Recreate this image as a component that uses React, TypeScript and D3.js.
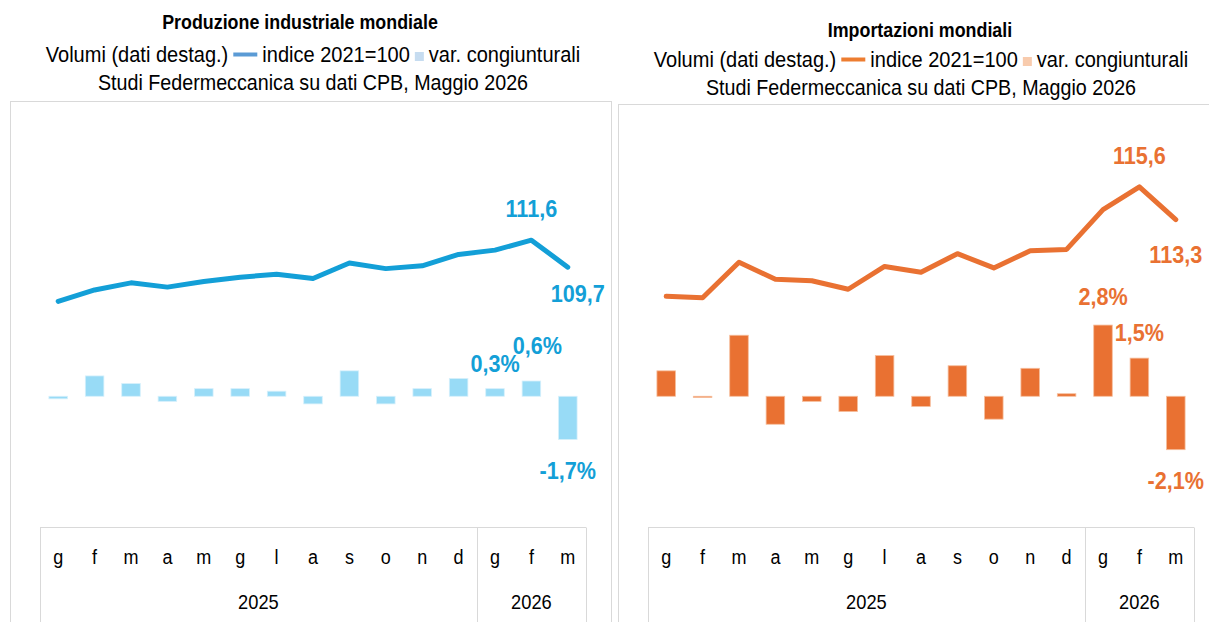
import React, { useEffect, useRef } from 'react';
import * as d3 from 'd3';

// months (Italian initials), Jan 2025 - Mar 2026
const months = ['g', 'f', 'm', 'a', 'm', 'g', 'l', 'a', 's', 'o', 'n', 'd', 'g', 'f', 'm'];
const years = ['2025', '2026'];
const yearMonths = [12, 3];

// world industrial production, index 2021=100 and m/m % change
const prodIndex = [107.3, 108.1, 108.6, 108.3, 108.7, 109.0, 109.2, 108.9, 110.0, 109.6, 109.8, 110.6, 110.9, 111.6, 109.7];
const prodVar = [-0.1, 0.8, 0.5, -0.2, 0.3, 0.3, 0.2, -0.3, 1.0, -0.3, 0.3, 0.7, 0.3, 0.6, -1.7];

// world imports, index 2021=100 and m/m % change
const impIndex = [107.9, 107.8, 110.3, 109.1, 109.0, 108.4, 110.0, 109.6, 110.9, 109.9, 111.1, 111.2, 114.0, 115.6, 113.3];
const impVar = [1.0, -0.05, 2.4, -1.1, -0.2, -0.6, 1.6, -0.4, 1.2, -0.9, 1.1, 0.1, 2.8, 1.5, -2.1];

const FONT = "'Liberation Sans Narrow','Arial Narrow','Liberation Sans',Arial,sans-serif";
const fmt = (v: number) => d3.format('.1f')(v).replace('.', ',').replace('\u2212', '-');

// squeeze a text to mimic the narrow face of the original
const condense = (sel: any, k: number) => {
  const w = (sel.node() as SVGTextElement).getComputedTextLength();
  sel.attr('textLength', w * k).attr('lengthAdjust', 'spacingAndGlyphs');
  return w * k;
};

const panels = [
  {
    title: 'Produzione industriale mondiale',
    index: prodIndex,
    vars: prodVar,
    frame: [10.5, 101.5],
    range: [40, 586],
    titleDx: -13,
    lineDomain: [91.4, 120.4],
    lineColor: '#139FD7',
    barColor: '#98DBF6',
    barEdge: '#D6F0FB',
    legLine: '#5B9BD5',
    legBox: '#C6DCF0',
    titleY: 29,
    legendY: 62,
    sourceY: 90,
    lineLabels: [{ i: 13, dx: 0, dy: -23 }, { i: 14, dx: 10, dy: 35 }],
    barLabels: [{ i: 12, dx: 0, dy: -17 }, { i: 13, dx: 6, dy: -27 }, { i: 14, dx: 0, dy: 39 }],
  },
  {
    title: 'Importazioni mondiali',
    index: impIndex,
    vars: impVar,
    frame: [618.5, 104.5],
    range: [648, 1194],
    titleDx: -1,
    lineDomain: [91.65, 120.65],
    lineColor: '#E97132',
    barColor: '#E97132',
    barEdge: '#F6BE9C',
    legLine: '#ED7D31',
    legBox: '#F8CBAD',
    titleY: 37,
    legendY: 67,
    sourceY: 95,
    lineLabels: [{ i: 13, dx: 0, dy: -23 }, { i: 14, dx: 0, dy: 43 }],
    barLabels: [{ i: 12, dx: 0, dy: -20 }, { i: 13, dx: 0, dy: -17 }, { i: 14, dx: 0, dy: 39 }],
  },
];

const App = () => {
  const svgRef = useRef<SVGSVGElement>(null);

  useEffect(() => {
    const svg = d3.select(svgRef.current);
    svg.selectAll('*').remove();

    const plotTop = 115;
    const axisTop = 527.5;
    const barY = d3.scaleLinear().domain([-5.16, 11.06]).range([axisTop, plotTop]);

    panels.forEach(p => {
      const g = svg.append('g');
      const cx = (p.range[0] + p.range[1]) / 2;

      // frame
      g.append('rect')
        .attr('x', p.frame[0]).attr('y', p.frame[1])
        .attr('width', 601).attr('height', 700)
        .attr('fill', 'none').attr('stroke', '#D9D9D9');

      // titles
      const title = g.append('text').attr('x', cx + p.titleDx).attr('y', p.titleY)
        .attr('text-anchor', 'middle').attr('font-weight', 'bold').attr('font-size', 21)
        .text(p.title);
      condense(title, 0.85);

      // legend (measured and centered)
      const fs = 22.5;
      const leg = g.append('g');
      const t1 = leg.append('text').attr('font-size', fs).text('Volumi (dati destag.)');
      const w1 = condense(t1, 0.89);
      const t2 = leg.append('text').attr('font-size', fs).text('indice 2021=100');
      const w2 = condense(t2, 0.89);
      const t3 = leg.append('text').attr('font-size', fs).text('var. congiunturali');
      const w3 = condense(t3, 0.89);
      const gap = 5, lineW = 24, boxW = 9;
      const total = w1 + gap + lineW + gap + w2 + gap + boxW + gap + w3;
      let lx = cx - total / 2;
      t1.attr('x', lx).attr('y', p.legendY);
      lx += w1 + gap;
      leg.append('line').attr('x1', lx).attr('x2', lx + lineW)
        .attr('y1', p.legendY - 7.5).attr('y2', p.legendY - 7.5)
        .attr('stroke', p.legLine).attr('stroke-width', 4);
      lx += lineW + gap;
      t2.attr('x', lx).attr('y', p.legendY);
      lx += w2 + gap;
      leg.append('rect').attr('x', lx).attr('y', p.legendY - 10).attr('width', boxW).attr('height', boxW)
        .attr('fill', p.legBox);
      lx += boxW + gap;
      t3.attr('x', lx).attr('y', p.legendY);

      const src = g.append('text').attr('x', cx).attr('y', p.sourceY)
        .attr('text-anchor', 'middle').attr('font-size', fs)
        .text('Studi Federmeccanica su dati CPB, Maggio 2026');
      condense(src, 0.875);

      // scales
      const x = d3.scaleBand<number>().domain(d3.range(months.length)).range(p.range as [number, number])
        .paddingInner(0.49).paddingOuter(0.245);
      const xc = (i: number) => (x(i) as number) + x.bandwidth() / 2;
      const y = d3.scaleLinear().domain(p.lineDomain).range([axisTop, plotTop]);

      // bars
      g.append('g').selectAll('rect').data(p.vars).join('rect')
        .attr('x', (d, i) => x(i) as number)
        .attr('width', x.bandwidth())
        .attr('y', d => barY(Math.max(0, d)))
        .attr('height', d => Math.max(1, Math.abs(barY(d) - barY(0))))
        .attr('fill', p.barColor)
        .attr('stroke', p.barEdge).attr('stroke-width', 0.8);

      // line
      const line = d3.line<number>().x((d, i) => xc(i)).y(d => y(d));
      g.append('path').datum(p.index)
        .attr('d', line)
        .attr('fill', 'none').attr('stroke', p.lineColor)
        .attr('stroke-width', 5).attr('stroke-linecap', 'round').attr('stroke-linejoin', 'round');

      // data labels
      p.lineLabels.forEach(l => {
        const t = g.append('text').attr('x', xc(l.i) + l.dx).attr('y', y(p.index[l.i]) + l.dy)
          .attr('text-anchor', 'middle').attr('font-weight', 'bold').attr('font-size', 24)
          .attr('fill', p.lineColor).text(fmt(p.index[l.i]));
        condense(t, 0.9);
      });
      p.barLabels.forEach(l => {
        const v = p.vars[l.i];
        const t = g.append('text').attr('x', xc(l.i) + l.dx).attr('y', barY(v) + l.dy)
          .attr('text-anchor', 'middle').attr('font-weight', 'bold').attr('font-size', 24)
          .attr('fill', p.lineColor).text(fmt(v) + '%');
        condense(t, 0.9);
      });

      // category axis box
      const ax = g.append('g').attr('stroke', '#D9D9D9').attr('fill', 'none');
      ax.append('line').attr('x1', p.range[0]).attr('x2', p.range[1]).attr('y1', axisTop).attr('y2', axisTop);
      let cum = 0;
      const bounds = [0, ...yearMonths.map(n => (cum += n))];
      bounds.forEach(b => {
        const bx = Math.round(p.range[0] + b * x.step()) + 0.5;
        ax.append('line').attr('x1', bx).attr('x2', bx).attr('y1', axisTop).attr('y2', 640);
      });
      g.append('g').selectAll('text').data(months).join('text')
        .attr('x', (d, i) => xc(i)).attr('y', 564)
        .attr('text-anchor', 'middle').attr('font-size', 20).text(d => d)
        .each(function () { condense(d3.select(this), 0.9); });
      years.forEach((yr, k) => {
        const mid = p.range[0] + ((bounds[k] + bounds[k + 1]) / 2) * x.step();
        const t = g.append('text').attr('x', mid).attr('y', 609)
          .attr('text-anchor', 'middle').attr('font-size', 21).text(yr);
        condense(t, 0.87);
      });
    });
  }, []);

  return (
    <div style={{ position: 'absolute', left: 0, top: 0, width: 1209, height: 622, overflow: 'hidden', background: '#fff' }}>
      <svg ref={svgRef} width={1209} height={622} style={{ fontFamily: FONT, display: 'block' }} />
    </div>
  );
};

export default App;
